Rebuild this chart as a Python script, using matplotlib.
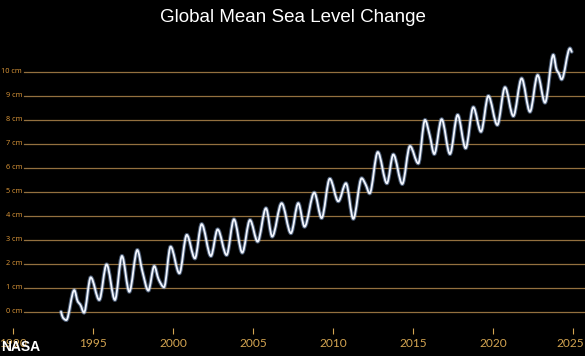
import numpy as np
import matplotlib
matplotlib.use("Agg")
import matplotlib.pyplot as plt
from matplotlib.path import Path
from matplotlib.patches import PathPatch
import matplotlib.patheffects as pe
import matplotlib.transforms as mtransforms

# Global mean sea level change (cm), peaks / troughs
years = [1993.00, 1993.12, 1993.33, 1993.83, 1994.05, 1994.20, 1994.44, 1994.86,
         1995.39, 1995.85, 1996.37, 1996.81, 1997.27, 1997.77, 1998.08, 1998.46,
         1998.83, 1999.10, 1999.44, 1999.85, 2000.40, 2000.86, 2001.37, 2001.79,
         2002.37, 2002.79, 2003.35, 2003.81, 2004.33, 2004.81, 2005.29, 2005.81,
         2006.20, 2006.79, 2007.37, 2007.83, 2008.22, 2008.83, 2009.29, 2009.80,
         2010.33, 2010.81, 2011.27, 2011.79, 2012.04, 2012.29, 2012.80, 2013.37,
         2013.77, 2014.33, 2014.81, 2015.33, 2015.75, 2016.04, 2016.33, 2016.79,
         2017.31, 2017.79, 2018.29, 2018.77, 2019.25, 2019.71, 2020.27, 2020.75,
         2021.27, 2021.79, 2022.31, 2022.79, 2023.25, 2023.77, 2023.98, 2024.10,
         2024.29, 2024.81, 2024.92]
sea_level = [0.00, -0.25, -0.35, 0.90, 0.42, 0.30, -0.04, 1.43,
             0.49, 1.97, 0.49, 2.32, 0.83, 2.57, 1.70, 0.88,
             1.90, 1.35, 1.02, 2.71, 1.60, 3.20, 2.22, 3.65,
             2.32, 3.43, 2.36, 3.85, 2.46, 3.82, 2.92, 4.31,
             3.13, 4.52, 3.27, 4.52, 3.54, 4.96, 3.90, 5.54,
             4.60, 5.35, 3.87, 5.56, 5.30, 4.93, 6.65, 5.35,
             6.55, 5.32, 6.90, 6.18, 7.99, 7.36, 6.57, 8.02,
             6.57, 8.20, 6.81, 8.52, 7.50, 8.99, 7.78, 9.35,
             8.15, 9.72, 8.33, 9.86, 8.71, 10.70, 10.07, 9.95,
             9.68, 10.97, 10.83]

year_ticks = [1990, 1995, 2000, 2005, 2010, 2015, 2020, 2025]
cm_levels = list(range(0, 11))
cm_labels = [f"{v} cm" for v in cm_levels]

bg = "#000000"
grid_col = "#93703f"
tick_col = "#d3a451"
ylab_col = "#e09a3a"


def smooth_path(x, y):
    # monotone cubic (Fritsch-Carlson) drawn as bezier segments
    x = np.asarray(x, float)
    y = np.asarray(y, float)
    h = np.diff(x)
    d = np.diff(y) / h
    m = np.zeros_like(y)
    m[0], m[-1] = d[0], d[-1]
    for i in range(1, len(x) - 1):
        if d[i - 1] * d[i] > 0:
            w1 = 2 * h[i] + h[i - 1]
            w2 = h[i] + 2 * h[i - 1]
            m[i] = (w1 + w2) / (w1 / d[i - 1] + w2 / d[i])
    verts = [(x[0], y[0])]
    codes = [Path.MOVETO]
    for i in range(len(x) - 1):
        verts += [(x[i] + h[i] / 3, y[i] + m[i] * h[i] / 3),
                  (x[i + 1] - h[i] / 3, y[i + 1] - m[i + 1] * h[i] / 3),
                  (x[i + 1], y[i + 1])]
        codes += [Path.CURVE4] * 3
    return Path(verts, codes)


fig = plt.figure(figsize=(5.85, 3.56), dpi=100, facecolor=bg)
ax = fig.add_axes([0, 28 / 356, 1, 292 / 356])
ax.set_facecolor(bg)
ax.set_xlim(1990 - 13 / 16, 1990 + 572 / 16)
ax.set_ylim((311.7 - 328) / 24, (311.7 - 36) / 24)

for v, lab in zip(cm_levels, cm_labels):
    ax.axhline(v, xmin=24 / 585, xmax=1, color=grid_col, lw=0.9, zorder=1)
    ax.text(22 / 585, v, lab, transform=ax.get_yaxis_transform(),
            ha="right", va="center", fontsize=5.3, color=ylab_col,
            family="Open Sans", clip_on=False)

patch = PathPatch(smooth_path(years, sea_level), facecolor="none",
                  edgecolor="#f2f6ff", lw=1.3, zorder=3, capstyle="round")
patch.set_path_effects([pe.Stroke(linewidth=2.8, foreground="#8fb0e0", alpha=0.5),
                        pe.Normal()])
ax.add_patch(patch)

for s in ax.spines.values():
    s.set_visible(False)
ax.set_yticks([])
ax.set_xticks(year_ticks)
ax.set_xticklabels([str(t) for t in year_ticks], family="Lato", fontsize=8.6,
                   color=tick_col)
ax.tick_params(axis="x", colors=tick_col, length=4.5, width=0.8, pad=2.5,
               direction="out")
for lbl in ax.get_xticklabels():
    lbl.set_color(tick_col)
# nudge the last year label so it stays inside the picture
last = ax.get_xticklabels()[-1]
last.set_transform(last.get_transform() +
                   mtransforms.ScaledTranslation(-3 / 100, 0, fig.dpi_scale_trans))

fig.text(0.5, 1 - 18 / 356, "Global Mean Sea Level Change", ha="center",
         va="center", color="white", fontsize=13.5, family="Liberation Sans")
fig.text(1 / 585, 2 / 356, "NASA", ha="left", va="bottom", color="white",
         fontsize=10, weight="bold",
         family=["Liberation Sans Narrow", "Liberation Sans"])

fig.savefig("out.png", dpi=100, facecolor=bg)
